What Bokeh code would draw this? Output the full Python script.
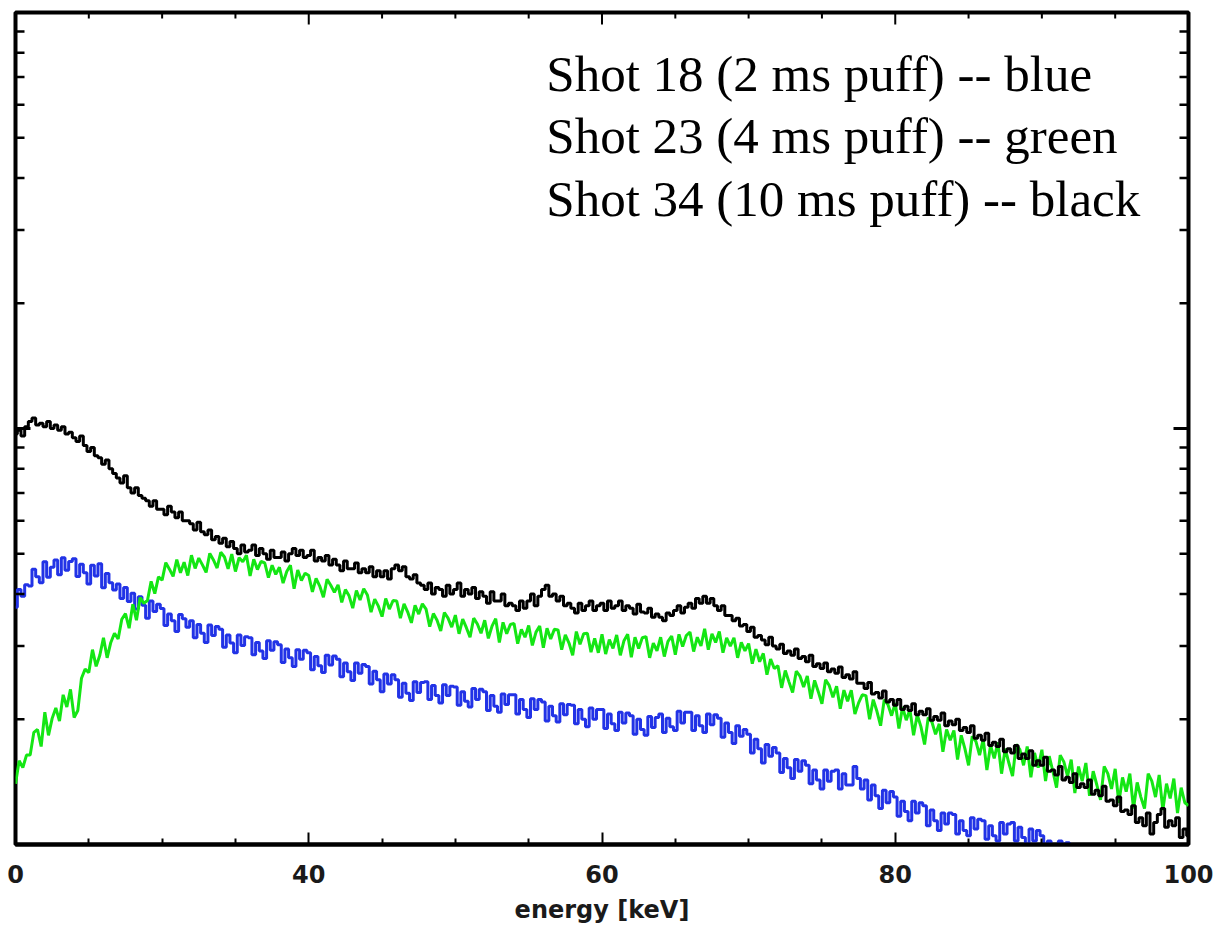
import math
from bokeh.plotting import figure
from bokeh.models import FixedTicker, Range1d, Label
from bokeh.embed import file_html
from bokeh.resources import INLINE

# energy bins: 0.25 keV wide, starting at 20 keV
E_START = 20.0
E_STEP = 0.25

# Shot 34 (10 ms puff) -- black
shot34 = [
    97, 99, 96, 101, 104, 106, 102, 103, 101, 104, 100, 102, 99, 101, 97, 98,
    95, 93, 96, 91, 88, 90, 86, 85, 82, 84, 80, 78, 76, 74, 77, 72,
    70, 72, 69, 68, 67, 65, 67, 64, 64, 62, 65, 63, 61, 63, 60, 60,
    59, 57, 59.5, 56.5, 55.5, 57, 54, 55, 53, 54.5, 52, 53.5, 51.5, 50, 52.5, 50.5,
    51, 52.5, 49.5, 51.5, 50, 48.5, 51, 49, 49, 50.5, 48, 50, 51.5, 49.5, 51, 49,
    49.5, 51, 48, 49, 48, 49.5, 47, 48.5, 47, 45.5, 48, 46, 46, 47.5, 45, 46,
    45, 46.5, 44, 45.5, 44, 45.5, 43.5, 46, 47, 45.5, 46.5, 44, 43.5, 44.5, 42.5, 42,
    41, 42.5, 40, 41.5, 41, 39.5, 42, 40, 41, 42.5, 39.5, 41, 40, 41.5, 39, 40.5,
    39.5, 38, 40.5, 38.5, 38.5, 40, 37.5, 38, 37.5, 36.5, 38.5, 37, 38.5, 40, 37.5, 39.5,
    41, 42, 39.5, 40, 38.5, 39.5, 37.5, 38, 37, 36, 38, 36.5, 37.5, 38.5, 36.5, 37.5,
    38, 36.5, 38.5, 37, 37.5, 38.5, 36.5, 37.5, 37, 35.8, 37.8, 36.2, 36, 37, 35.2, 35.8,
    35.2, 34.5, 36, 35.5, 36.5, 37.5, 36, 37.2, 38, 37, 39, 38, 39.5, 38, 39, 37.5,
    36.5, 37.5, 35.5, 35.5, 34.5, 35, 33.5, 33.8, 32.5, 33.3, 31.5, 31.8, 31, 30.2, 31.5, 30,
    29.5, 30.3, 28.8, 29.2, 28.5, 29.5, 28, 28.3, 27.5, 28.5, 26.8, 27.2, 26.5, 27.3, 26, 26.4,
    25.8, 26.7, 25.2, 25.6, 25, 26, 24.4, 24.4, 23.7, 24.5, 23, 23.2, 22.5, 23.4, 22, 22.3,
    21.6, 22.3, 21.1, 21.5, 21, 21.8, 20.5, 20.9, 20.5, 21.2, 19.9, 20.3, 19.9, 20.7, 19.3, 19.8,
    19.4, 20, 18.8, 19.1, 18.6, 19.3, 18, 18.3, 17.8, 18.5, 17.3, 17.6, 17.2, 17.9, 16.7, 17,
    16.6, 17.3, 16.1, 16.5, 16.1, 16.8, 15.5, 15.9, 15.5, 16.2, 15, 15.1, 14.7, 15.4, 14.3, 14.5,
    14.1, 14.8, 13.7, 14, 13.7, 14.3, 13.2, 13.5, 13.1, 13.8, 12.7, 12.8, 12.4, 13, 12, 12.1,
    11.8, 12.4, 11.3, 11.6, 11.1, 11.9, 10.6, 11.3, 11.8, 12.2, 11, 11.4, 11.1, 11.6, 10.4, 10.9,
    10.5]

# Shot 23 (4 ms puff) -- green
shot23 = [
    14.0, 15.9, 15.3, 16.4, 16.4, 18.6, 18.9, 17.2, 20.8, 18.3, 20.1, 21.3, 19.8, 22.9, 21.4, 23.6,
    20.2, 21.0, 25.1, 26.4, 25.9, 29.4, 26.8, 28.5, 31.4, 28.1, 30.6, 32.2, 31.2, 34.8, 35.9, 33.1,
    37.8, 34.6, 39.2, 38.0, 38.6, 42.9, 40.1, 44.0, 43.2, 47.6, 45.9, 44.1, 48.4, 45.0, 47.7, 44.3,
    49.6, 46.1, 48.8, 47.0, 45.1, 50.1, 48.3, 46.2, 50.4, 49.1, 46.0, 49.9, 45.3, 48.9, 47.8, 49.6,
    44.2, 48.5, 45.8, 47.9, 47.5, 43.8, 46.9, 44.6, 46.4, 42.5, 45.3, 46.9, 41.2, 45.7, 43.1, 44.9,
    44.3, 40.5, 43.6, 41.8, 39.3, 43.4, 42.0, 40.4, 42.1, 38.2, 41.0, 39.6, 37.0, 40.8, 38.7, 41.2,
    39.8, 36.2, 38.9, 37.4, 35.3, 39.0, 36.8, 38.6, 38.5, 35.0, 37.9, 36.2, 34.1, 37.6, 35.8, 37.9,
    36.8, 33.4, 35.9, 34.6, 32.6, 36.1, 35.0, 33.3, 35.6, 32.1, 34.8, 33.2, 31.5, 35.0, 33.9, 32.2,
    34.6, 31.3, 33.5, 34.9, 30.6, 34.2, 32.1, 33.8, 34.0, 30.4, 32.9, 31.5, 33.6, 30.1, 32.4, 33.5,
    29.7, 33.1, 31.2, 32.9, 32.8, 29.4, 31.9, 30.5, 28.5, 32.5, 30.3, 32.1, 32.2, 29.0, 31.3, 28.9,
    32.0, 28.7, 31.1, 29.6, 31.9, 28.5, 30.9, 32.0, 28.2, 31.5, 29.6, 31.4, 31.6, 28.1, 30.5, 29.2,
    31.5, 28.3, 30.8, 31.7, 28.6, 32.0, 29.9, 31.8, 32.4, 29.1, 31.5, 30.0, 33.0, 29.4, 32.1, 30.6,
    32.5, 28.9, 31.4, 30.0, 31.4, 28.1, 30.6, 29.2, 30.4, 27.2, 29.5, 27.5, 28.8, 25.6, 27.9, 26.5,
    26.9, 23.8, 26.2, 24.6, 23.2, 26.1, 25.4, 23.9, 25.4, 22.4, 24.8, 23.3, 21.8, 24.9, 24.1, 22.6,
    24.0, 21.2, 23.5, 22.1, 23.5, 20.6, 21.9, 22.9, 22.8, 20.0, 22.3, 20.9, 19.3, 22.3, 21.7, 20.4,
    21.9, 19.0, 21.4, 19.9, 21.1, 18.3, 20.5, 19.2, 17.4, 20.2, 19.7, 18.4, 19.5, 16.7, 18.9, 17.8,
    18.8, 16.0, 18.3, 17.0, 15.5, 18.2, 17.7, 16.4, 17.9, 15.1, 17.3, 16.1, 17.6, 14.8, 17.0, 15.7,
    14.6, 17.4, 16.9, 15.5, 17.2, 14.5, 16.6, 15.3, 16.9, 14.2, 16.3, 15.0, 13.7, 16.4, 15.8, 14.6,
    16.0, 13.3, 15.4, 14.2, 15.7, 13.1, 15.0, 13.9, 12.8, 15.4, 14.8, 13.6, 15.2, 12.6, 14.5, 13.4,
    14.8, 12.2, 14.1, 13.0, 12.2, 14.8, 14.2, 13.0, 14.7, 12.1, 14.0, 12.9, 14.4, 11.9, 13.7, 12.6,
    12.4]

# Shot 18 (2 ms puff) -- blue
shot18 = [
    37.2, 41.0, 39.5, 42.1, 41.8, 45.9, 44.0, 42.6, 47.8, 43.9, 46.4, 48.3, 44.5, 48.9, 45.6, 47.9,
    48.6, 44.1, 47.2, 45.0, 42.3, 46.9, 44.2, 47.3, 41.4, 44.8, 42.6, 40.9, 42.3, 39.0, 41.5, 38.4,
    40.2, 36.8, 39.4, 37.6, 35.0, 38.5, 36.3, 37.8, 36.9, 33.6, 35.8, 34.5, 32.5, 35.7, 34.9, 33.3,
    34.5, 31.4, 33.8, 32.2, 30.6, 33.7, 31.8, 33.4, 32.9, 29.8, 31.9, 30.5, 28.9, 31.9, 30.1, 31.6,
    31.4, 28.6, 30.6, 29.2, 28.0, 30.9, 29.3, 30.7, 30.2, 27.4, 29.5, 28.1, 26.8, 29.4, 27.9, 29.3,
    28.9, 26.3, 28.3, 26.9, 25.9, 28.5, 27.0, 28.4, 27.9, 25.3, 27.3, 26.0, 24.8, 27.3, 25.8, 27.1,
    26.8, 24.3, 26.1, 24.9, 23.3, 25.7, 24.3, 25.6, 24.9, 22.6, 24.4, 23.1, 22.2, 24.6, 23.2, 24.5,
    24.6, 22.3, 24.1, 22.8, 21.9, 24.2, 22.8, 24.0, 23.9, 21.6, 23.3, 22.1, 21.4, 23.7, 22.3, 23.6,
    23.3, 21.0, 22.8, 21.5, 20.8, 23.0, 21.7, 22.9, 22.9, 20.6, 22.3, 21.1, 20.2, 22.4, 21.1, 22.3,
    22.0, 19.8, 21.5, 20.4, 19.7, 21.8, 20.5, 21.7, 21.6, 19.5, 21.1, 20.0, 19.2, 21.3, 20.0, 21.1,
    21.1, 19.0, 20.6, 19.5, 18.8, 20.8, 19.6, 20.7, 20.4, 18.4, 20.0, 18.9, 18.3, 20.3, 19.1, 20.2,
    20.6, 18.6, 20.1, 19.2, 18.8, 20.9, 19.6, 20.8, 20.8, 18.8, 20.4, 19.3, 18.6, 20.6, 19.4, 20.5,
    20.1, 18.1, 19.6, 18.6, 17.5, 19.3, 18.2, 18.9, 18.4, 16.6, 17.9, 17.0, 15.7, 17.4, 16.3, 17.1,
    16.6, 14.9, 16.1, 15.3, 14.4, 16.0, 15.0, 15.9, 15.5, 14.0, 15.1, 14.3, 13.6, 15.1, 14.2, 15.0,
    15.1, 13.6, 14.8, 13.9, 13.9, 15.4, 14.4, 13.6, 14.3, 12.8, 13.9, 13.1, 12.2, 13.5, 12.6, 13.4,
    13.0, 11.7, 12.7, 12.0, 11.4, 12.7, 11.9, 12.6, 12.4, 11.1, 12.1, 11.4, 10.8, 11.9, 11.2, 11.9,
    11.8, 10.6, 11.4, 10.8, 10.5, 11.6, 10.9, 11.5, 11.4, 10.3, 11.1, 10.5, 10.2, 11.3, 10.6, 11.2,
    11.3, 10.2, 11.0, 10.4, 9.8, 10.9, 10.2, 10.8, 10.5, 9.4, 10.2, 9.6, 9.1, 10.2, 9.5, 10.1,
    9.2]

x_ticks = [20, 40, 60, 80, 100]
x_minor = [25, 30, 35, 45, 50, 55, 65, 70, 75, 85, 90, 95]
y_ticks = [100]
y_minor = [20, 30, 40, 50, 60, 70, 80, 90, 200, 300, 400, 500, 600, 700, 800, 900]

legend_lines = ["Shot 18 (2 ms puff) -- blue",
                "Shot 23 (4 ms puff) -- green",
                "Shot 34 (10 ms puff) -- black"]

X_MIN, X_MAX = 20, 100
Y_MIN, Y_MAX = 10, 1000


def energies(n):
    return [E_START + E_STEP * i for i in range(n)]


p = figure(width=1215, height=930, y_axis_type="log",
           x_range=Range1d(X_MIN, X_MAX), y_range=Range1d(Y_MIN, Y_MAX),
           output_backend="svg", toolbar_location=None,
           min_border_left=15, min_border_right=27, min_border_top=12, min_border_bottom=86)
p.background_fill_color = "white"
p.border_fill_color = "white"
p.grid.visible = False
p.outline_line_color = "black"
p.outline_line_width = 4
p.yaxis.visible = False

p.step(energies(len(shot18)), shot18, mode="center", line_color="#2233e6", line_width=3)
p.line(energies(len(shot23)), shot23, line_color="#14e614", line_width=3)
p.step(energies(len(shot34)), shot34, mode="center", line_color="black", line_width=3)

xa = p.xaxis[0]
xa.ticker = FixedTicker(ticks=x_ticks, minor_ticks=x_minor)
xa.major_label_overrides = {20: "0"}
xa.axis_label = "energy [keV]"
xa.axis_label_text_font = "DejaVu Sans"
xa.axis_label_text_font_style = "bold"
xa.axis_label_text_font_size = "24px"
xa.axis_label_text_color = "#1a1a1a"
xa.axis_label_standoff = 10
xa.major_label_text_font = "DejaVu Sans"
xa.major_label_text_font_style = "bold"
xa.major_label_text_font_size = "24px"
xa.major_label_text_color = "#1a1a1a"
xa.major_label_standoff = 20
xa.axis_line_width = 4
xa.major_tick_in = 12
xa.major_tick_out = 0
xa.minor_tick_in = 6
xa.minor_tick_out = 0
xa.major_tick_line_width = 2
xa.minor_tick_line_width = 2

# mirrored tick marks on the top, left and right frame edges
tick_style = dict(length_units="screen", line_color="black")
p.ray(x=x_ticks, y=[Y_MAX] * len(x_ticks), length=12, angle=-math.pi / 2, line_width=2, **tick_style)
p.ray(x=x_minor, y=[Y_MAX] * len(x_minor), length=6, angle=-math.pi / 2, line_width=2, **tick_style)
p.ray(x=[X_MIN] * len(y_ticks), y=y_ticks, length=15, angle=0, line_width=3, **tick_style)
p.ray(x=[X_MIN] * len(y_minor), y=y_minor, length=9, angle=0, line_width=2.5, **tick_style)
p.ray(x=[X_MAX] * len(y_ticks), y=y_ticks, length=15, angle=math.pi, line_width=3, **tick_style)
p.ray(x=[X_MAX] * len(y_minor), y=y_minor, length=9, angle=math.pi, line_width=2.5, **tick_style)

label_y = [713, 506, 357]
for txt, yy in zip(legend_lines, label_y):
    p.add_layout(Label(x=56.2, y=yy, text=txt, text_font="Liberation Serif",
                       text_font_size="51px", text_color="black", text_baseline="alphabetic"))

open("out.html", "w").write(file_html(p, INLINE))
